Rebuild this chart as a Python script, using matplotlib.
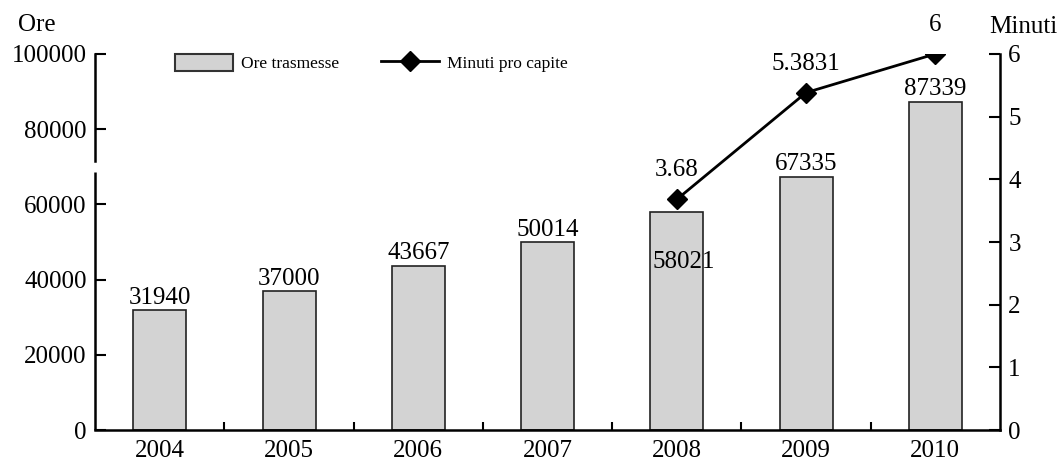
import matplotlib
matplotlib.use('Agg')
import matplotlib.pyplot as plt
from matplotlib.patches import Patch
from matplotlib.lines import Line2D

plt.rcParams['font.family'] = ['Liberation Serif', 'DejaVu Serif']

anni = ['2004', '2005', '2006', '2007', '2008', '2009', '2010']
ore = [31940, 37000, 43667, 50014, 58021, 67335, 87339]
anni_minuti = ['2008', '2009', '2010']
minuti = [3.68, 5.3831, 6]
minuti_etichette = ['3.68', '5.3831', '6']

fig = plt.figure(figsize=(10.57, 4.65), dpi=100)
ax = fig.add_axes([0.09, 0.075, 0.856, 0.809])

x = list(range(len(anni)))
ax.bar(x, ore, width=0.41, color='#d3d3d3', edgecolor='#222222', linewidth=1.2, zorder=2)

for i, v in enumerate(ore):
    if anni[i] == '2008':
        # questa etichetta finisce dentro la barra
        ax.annotate(str(v), (i, v), xytext=(5, -28), textcoords='offset points',
                    ha='center', va='top', fontsize=18, zorder=4)
    else:
        ax.annotate(str(v), (i, v), xytext=(0, 1), textcoords='offset points',
                    ha='center', va='bottom', fontsize=18, zorder=4)

ax.set_xlim(-0.5, len(anni) - 0.5)
ax.set_ylim(0, 100000)
ax.set_yticks(range(0, 100001, 20000))
ax.set_xticks(x)
ax.set_xticklabels(anni)
ax.set_xticks([i + 0.5 for i in x[:-1]], minor=True)
ax.tick_params(axis='x', which='major', length=0, labelsize=18, pad=7)
ax.tick_params(axis='x', which='minor', direction='in', length=6, width=1.5)
ax.tick_params(axis='y', direction='in', length=8, width=1.5, labelsize=18, pad=6)

for s in ['top', 'right']:
    ax.spines[s].set_visible(False)
ax.spines['bottom'].set_linewidth(1.8)
ax.spines['left'].set_linewidth(1.8)
# asse sinistro spezzato
ax.spines['left'].set_bounds(71500, 100000)
ax.plot([0, 0], [0, 68500], color='black', lw=1.8, transform=ax.get_yaxis_transform(),
        clip_on=False, solid_capstyle='butt', zorder=5)

ax2 = ax.twinx()
ax2.set_ylim(0, 6)
ax2.set_yticks(range(0, 7))
for s in ['top', 'left', 'bottom']:
    ax2.spines[s].set_visible(False)
ax2.spines['right'].set_linewidth(1.8)
ax2.tick_params(axis='y', direction='in', length=8, width=1.5, labelsize=18, pad=6)

xm = [anni.index(a) for a in anni_minuti]
ax2.plot(xm, minuti, color='black', lw=2, marker='D', markersize=10, zorder=3)
for xi, v, t in zip(xm, minuti, minuti_etichette):
    ax2.annotate(t, (xi, v), xytext=(0, 13), textcoords='offset points',
                 ha='center', va='bottom', fontsize=18)

fig.text(0.017, 0.97, 'Ore', fontsize=18, va='top')
fig.text(0.936, 0.965, 'Minuti', fontsize=18, va='top')

handles = [Patch(facecolor='#d3d3d3', edgecolor='#333333', linewidth=1.5),
           Line2D([], [], color='black', lw=2, marker='D', markersize=10)]
fig.legend(handles, ['Ore trasmesse', 'Minuti pro capite'], loc='center',
           bbox_to_anchor=(0.351, 0.865), ncol=2, frameon=False, fontsize=12.5,
           handlelength=3.35, handleheight=1.15, columnspacing=2.4, handletextpad=0.45)

fig.savefig('out.png', dpi=100)
